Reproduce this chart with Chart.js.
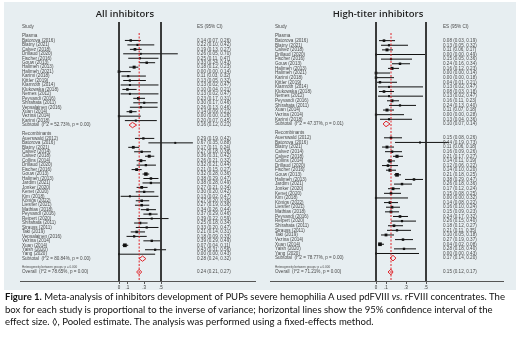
<!DOCTYPE html>
<html>
<head>
<meta charset="utf-8">
<script src="https://cdn.jsdelivr.net/npm/chart.js@4.4.0/dist/chart.umd.min.js"></script>
<style>
    body { margin: 0; background: #fff; width: 520px; height: 349px; overflow: hidden; position: relative; }
    #panel { position: absolute; left: 4px; top: 2px; width: 512px; height: 288px; background: #e7eef1; }
    canvas { position: absolute; top: 0; }
    #c1 { left: 0; }
    #c2 { left: 260px; }
    #caption { position: absolute; left: 5px; top: 291px; font-family: Lato, sans-serif; font-size: 9.55px; line-height: 12.5px; color: #111; white-space: nowrap; }
</style>
</head>
<body>
<div id="panel"></div>
<canvas id="c1" width="260" height="292"></canvas>
<canvas id="c2" width="260" height="292"></canvas>
<div id="caption"><b>Figure 1.</b> Meta-analysis of inhibitors development of PUPs severe hemophilia A used pdFVIII <i>vs.</i> rFVIII concentrates. The<br>box for each study is proportional to the inverse of variance; horizontal lines show the 95% confidence interval of the<br>effect size. ◊, Pooled estimate. The analysis was performed using a fixed-effects method.</div>
<script>
// ---- All inhibitors ----
const allPlasmaStudies = ["Batorova (2016)", "Blatny (2021)", "Calvez (2018)", "Drillaud (2020)", "Fischer (2016)", "Gouw (2013)", "Halimeh (2013)", "Halimeh (2021)", "Karimi (2018)", "Kittler (2019)", "Klamroth (2014)", "Klukowska (2018)", "Nemes (2012)", "Peyvandi (2016)", "Shirahata (2011)", "Vepsalainen (2016)", "Xuan (2014)", "Vezina (2014)", "Karimi (2018)"];
const allPlasmaEs = [0.14, 0.22, 0.19, 0.26, 0.25, 0.33, 0.18, 0.00, 0.11, 0.13, 0.13, 0.10, 0.13, 0.23, 0.30, 0.26, 0.14, 0.00, 0.20];
const allPlasmaLo = [0.07, 0.10, 0.13, 0.05, 0.11, 0.24, 0.12, 0.00, 0.03, 0.05, 0.02, 0.04, 0.02, 0.17, 0.17, 0.13, 0.09, 0.00, 0.07];
const allPlasmaHi = [0.26, 0.42, 0.27, 0.70, 0.47, 0.43, 0.23, 0.14, 0.32, 0.32, 0.47, 0.21, 0.47, 0.31, 0.46, 0.46, 0.21, 0.26, 0.45];

const allRecombStudies = ["Auerswald (2012)", "Batorova (2016)", "Blatny (2021)", "Calvez (2014)", "Calvez (2018)", "Collins (2014)", "Drillaud (2020)", "Fischer (2016)", "Gouw (2013)", "Halimeh (2013)", "Jardim (2021)", "Jonker (2020)", "Kenet (2020)", "Kim (2018)", "Königs (2022)", "Liesner (2021)", "Mathias (2018)", "Peyvandi (2016)", "Reipert (2020)", "Shirahata (2011)", "Strauss (2011)", "Taki (2019)", "Vepsalainen (2016)", "Vezina (2014)", "Xuan (2014)", "Yaish (2020)", "Yang (2020)"];
const allRecombEs = [0.29, 0.67, 0.17, 0.27, 0.36, 0.26, 0.32, 0.21, 0.32, 0.38, 0.38, 0.27, 0.30, 0.13, 0.27, 0.27, 0.34, 0.37, 0.39, 0.25, 0.33, 0.21, 0.18, 0.39, 0.07, 0.43, 0.00];
const allRecombLo = [0.19, 0.35, 0.11, 0.18, 0.31, 0.21, 0.21, 0.15, 0.28, 0.29, 0.28, 0.21, 0.20, 0.02, 0.20, 0.19, 0.26, 0.29, 0.22, 0.18, 0.20, 0.14, 0.09, 0.29, 0.04, 0.31, 0.00];
const allRecombHi = [0.42, 0.88, 0.24, 0.38, 0.42, 0.32, 0.44, 0.27, 0.36, 0.47, 0.49, 0.34, 0.42, 0.47, 0.36, 0.36, 0.44, 0.46, 0.59, 0.34, 0.47, 0.31, 0.33, 0.49, 0.11, 0.56, 0.43];

const allSubtotals = [
    { label: "Subtotal  (I^2 = 52.73%, p = 0.00)", es: 0.16, lo: 0.12, hi: 0.21 },
    { label: "Subtotal  (I^2 = 80.84%, p = 0.00)", es: 0.28, lo: 0.24, hi: 0.32 }
];
const allOverall = { label: "Overall  (I^2 = 78.65%, p = 0.00)", es: 0.24, lo: 0.21, hi: 0.27 };

// ---- High-titer inhibitors ----
const hiPlasmaStudies = ["Batorova (2016)", "Blatny (2021)", "Calvez (2018)", "Drillaud (2020)", "Fischer (2016)", "Gouw (2013)", "Halimeh (2013)", "Halimeh (2021)", "Karimi (2018)", "Kittler (2019)", "Klamroth (2014)", "Klukowska (2018)", "Nemes (2012)", "Peyvandi (2016)", "Shirahata (2011)", "Xuan (2014)", "Vezina (2014)", "Karimi (2018)"];
const hiPlasmaEs = [0.08, 0.13, 0.11, 0.00, 0.15, 0.24, 0.16, 0.00, 0.00, 0.04, 0.13, 0.08, 0.13, 0.16, 0.24, 0.11, 0.00, 0.13];
const hiPlasmaLo = [0.03, 0.05, 0.06, 0.00, 0.05, 0.16, 0.12, 0.00, 0.00, 0.01, 0.02, 0.03, 0.02, 0.11, 0.13, 0.07, 0.00, 0.04];
const hiPlasmaHi = [0.19, 0.32, 0.17, 0.49, 0.36, 0.34, 0.23, 0.14, 0.18, 0.21, 0.47, 0.18, 0.47, 0.23, 0.40, 0.18, 0.28, 0.36];

const hiRecombStudies = ["Auerswald (2012)", "Batorova (2016)", "Blatny (2021)", "Calvez (2014)", "Calvez (2018)", "Collins (2014)", "Drillaud (2020)", "Fischer (2016)", "Gouw (2013)", "Halimeh (2013)", "Jardim (2021)", "Jonker (2020)", "Kenet (2020)", "Kim (2018)", "Königs (2022)", "Liesner (2021)", "Mathias (2018)", "Peyvandi (2016)", "Reipert (2020)", "Shirahata (2011)", "Strauss (2011)", "Taki (2019)", "Vezina (2014)", "Xuan (2014)", "Yaish (2020)", "Yang (2020)"];
const hiRecombEs = [0.15, 0.44, 0.11, 0.16, 0.21, 0.14, 0.12, 0.14, 0.21, 0.38, 0.26, 0.17, 0.15, 0.00, 0.14, 0.16, 0.15, 0.24, 0.26, 0.18, 0.21, 0.10, 0.27, 0.04, 0.28, 0.00];
const hiRecombLo = [0.08, 0.19, 0.06, 0.09, 0.17, 0.11, 0.06, 0.10, 0.18, 0.29, 0.18, 0.12, 0.08, 0.00, 0.08, 0.10, 0.09, 0.17, 0.15, 0.12, 0.11, 0.05, 0.19, 0.02, 0.18, 0.00];
const hiRecombHi = [0.26, 0.73, 0.18, 0.26, 0.27, 0.19, 0.22, 0.20, 0.25, 0.47, 0.36, 0.24, 0.25, 0.32, 0.22, 0.24, 0.23, 0.32, 0.40, 0.27, 0.35, 0.18, 0.37, 0.08, 0.40, 0.43];

const hiSubtotals = [
    { label: "Subtotal  (I^2 = 47.37%, p = 0.01)", es: 0.10, lo: 0.07, hi: 0.14 },
    { label: "Subtotal  (I^2 = 78.77%, p = 0.00)", es: 0.17, lo: 0.14, hi: 0.20 }
];
const hiOverall = { label: "Overall  (I^2 = 71.21%, p = 0.00)", es: 0.15, lo: 0.12, hi: 0.17 };

const groupNames = ["Plasma", "Recombinants"];
const hetLabel = "Heterogeneity between groups: p = 0.000";
const xTicks = [0, 0.1, 0.3, 0.5];

function fmt(r) {
    return r.es.toFixed(2) + " (" + r.lo.toFixed(2) + ", " + r.hi.toFixed(2) + ")";
}

// rows: header, studies, subtotal, blank ... het, overall
function buildRows(groups, subtotals, overall) {
    const rows = [];
    let i = 0;
    groups.forEach((g, gi) => {
        rows.push({ type: "head", label: groupNames[gi], row: i++ });
        g.names.forEach((n, k) => {
            rows.push({ type: "study", label: n, es: g.es[k], lo: g.lo[k], hi: g.hi[k], row: i++ });
        });
        rows.push(Object.assign({ type: "sub", row: i++ }, subtotals[gi]));
        i++;
    });
    rows.push({ type: "het", label: hetLabel, row: i++ });
    rows.push(Object.assign({ type: "sub", row: i }, overall));
    return rows;
}

function makePanel(id, cfg) {
    const rows = buildRows(cfg.groups, cfg.subtotals, cfg.overall);
    const last = rows[rows.length - 1].row;
    const step = (272 - 36) / last;        // px per row
    const yMin = (22 - 36) / step;
    const yMax = (281 - 36) / step;

    const studies = rows.filter(r => r.type === "study");
    const subs = rows.filter(r => r.type === "sub");

    const ciLine = [];
    studies.forEach(r => {
        ciLine.push({ x: r.lo, y: r.row }, { x: r.hi, y: r.row }, { x: r.hi, y: null });
    });
    const diamonds = [];
    subs.forEach(r => {
        diamonds.push({ x: r.lo, y: r.row }, { x: r.es, y: r.row - 0.6 }, { x: r.hi, y: r.row },
            { x: r.es, y: r.row + 0.6 }, { x: r.lo, y: r.row }, { x: r.lo, y: null });
    });

    const textPlugin = {
        id: "forestText",
        afterDatasetsDraw(chart) {
            const c = chart.ctx;
            const xs = chart.scales.x, ys = chart.scales.y;
            const lx = xs.getPixelForValue(cfg.studyX);
            const ex = xs.getPixelForValue(cfg.esX);
            c.save();
            c.fillStyle = "#1e1e1e";
            c.font = "600 9.5px 'Open Sans', sans-serif";
            c.textAlign = "center";
            c.textBaseline = "middle";
            c.fillText(cfg.title, xs.getPixelForValue(cfg.titleX), ys.getPixelForValue((14 - 36) / step));
            c.textAlign = "left";
            c.fillStyle = "#4a4a4a";
            c.font = "4.6px 'Liberation Sans', Arial, sans-serif";
            const hy = ys.getPixelForValue((27 - 36) / step);
            c.fillText("Study", lx, hy);
            c.fillText("ES (95% CI)", ex, hy);
            rows.forEach(r => {
                const y = ys.getPixelForValue(r.row);
                if (r.type === "het") {
                    c.font = "3px 'Liberation Sans', Arial, sans-serif";
                    c.fillText(r.label, lx, y);
                    c.font = "4.6px 'Liberation Sans', Arial, sans-serif";
                    return;
                }
                c.fillText(r.label, lx, y);
                if (r.type !== "head") c.fillText(fmt(r), ex, y);
            });
            c.restore();
        }
    };

    return new Chart(document.getElementById(id), {
        type: "scatter",
        data: {
            datasets: [
                {
                    data: [{ x: 0, y: yMin }, { x: 0, y: yMax }],
                    showLine: true, borderColor: "#222", borderWidth: 1, pointRadius: 0
                },
                {
                    data: [{ x: 0.5, y: yMin }, { x: 0.5, y: yMax }],
                    showLine: true, borderColor: "#222", borderWidth: 1, pointRadius: 0
                },
                {
                    data: [{ x: cfg.overall.es, y: (33 - 36) / step }, { x: cfg.overall.es, y: yMax }],
                    showLine: true, borderColor: "#e0242a", borderWidth: 1, borderDash: [2, 1.5], pointRadius: 0
                },
                {
                    data: ciLine, showLine: true, spanGaps: false,
                    borderColor: "#111", borderWidth: 1, pointRadius: 0
                },
                {
                    data: studies.map(r => ({ x: r.es, y: r.row })),
                    pointStyle: "rect",
                    pointRadius: studies.map(r => Math.min(2.6, 1.2 + 0.1 / Math.max(r.hi - r.lo, 0.01))),
                    backgroundColor: "#111", borderWidth: 0
                },
                {
                    data: diamonds, showLine: true, spanGaps: false,
                    borderColor: "#e0242a", borderWidth: 1, pointRadius: 0,
                    backgroundColor: "rgba(240,150,150,0.5)"
                }
            ]
        },
        options: {
            responsive: false,
            animation: false,
            events: [],
            layout: { padding: { left: cfg.padLeft, right: cfg.padRight, top: 22, bottom: 0 } },
            plugins: { legend: { display: false }, tooltip: { enabled: false } },
            scales: {
                x: {
                    type: "linear", min: cfg.xMin, max: cfg.xMax,
                    border: { display: true, color: "#555", width: 1 },
                    grid: { drawOnChartArea: false, drawTicks: true, tickLength: 3, color: "#555" },
                    ticks: {
                        color: "#333", padding: 1, font: { size: 4.5 },
                        callback: v => (v === 0 ? "0" : String(v).replace(/^0/, ""))
                    },
                    afterBuildTicks: s => { s.ticks = xTicks.map(v => ({ value: v })); },
                    afterFit: s => { s.height = 11; }
                },
                y: { type: "linear", reverse: true, min: yMin, max: yMax, display: false }
            }
        },
        plugins: [textPlugin]
    });
}

makePanel("c1", {
    title: "All inhibitors", titleX: 0.07,
    groups: [
        { names: allPlasmaStudies, es: allPlasmaEs, lo: allPlasmaLo, hi: allPlasmaHi },
        { names: allRecombStudies, es: allRecombEs, lo: allRecombLo, hi: allRecombHi }
    ],
    subtotals: allSubtotals, overall: allOverall,
    xMin: (20 - 119) / 84, xMax: (255 - 119) / 84,
    padLeft: 20, padRight: 5,
    studyX: (22 - 119) / 84, esX: (197 - 119) / 84
});

makePanel("c2", {
    title: "High-titer inhibitors", titleX: 0.02,
    groups: [
        { names: hiPlasmaStudies, es: hiPlasmaEs, lo: hiPlasmaLo, hi: hiPlasmaHi },
        { names: hiRecombStudies, es: hiRecombEs, lo: hiRecombLo, hi: hiRecombHi }
    ],
    subtotals: hiSubtotals, overall: hiOverall,
    xMin: (10 - 116) / 100, xMax: (243 - 116) / 100,
    padLeft: 10, padRight: 17,
    studyX: (15 - 116) / 100, esX: (183 - 116) / 100
});
</script>
</body>
</html>
